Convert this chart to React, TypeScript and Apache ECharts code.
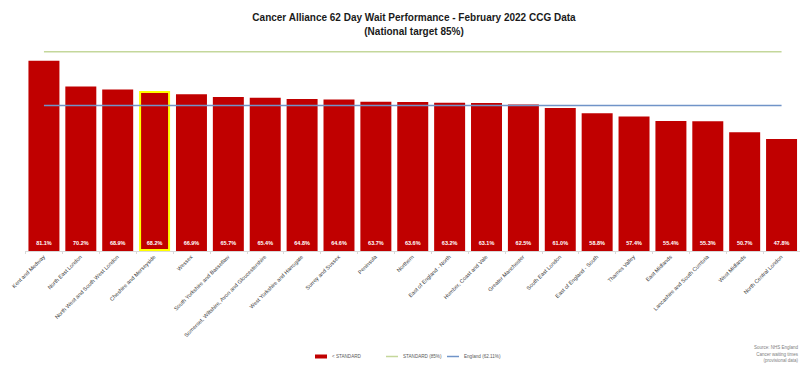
import React, { useEffect, useRef } from "react";
import * as echarts from "echarts";

const categories: string[] = [
  "Kent and Medway",
  "North East London",
  "North West and South West London",
  "Cheshire and Merseyside",
  "Wessex",
  "South Yorkshire and Bassetlaw",
  "Somerset, Wiltshire, Avon and Gloucestershire",
  "West Yorkshire and Harrogate",
  "Surrey and Sussex",
  "Peninsula",
  "Northern",
  "East of England - North",
  "Humber, Coast and Vale",
  "Greater Manchester",
  "South East London",
  "East of England - South",
  "Thames Valley",
  "East Midlands",
  "Lancashire and South Cumbria",
  "West Midlands",
  "North Central London",
];

const performance: number[] = [
  81.1, 70.2, 68.9, 68.2, 66.9, 65.7, 65.4, 64.8, 64.6, 63.7, 63.6, 63.2, 63.1,
  62.5, 61.0, 58.8, 57.4, 55.4, 55.3, 50.7, 47.8,
];

const standardTarget = 85;
const englandAverage = 62.11;
const highlighted = "Cheshire and Merseyside";

const sourceLines: string[] = [
  "Source: NHS England",
  "Cancer waiting times",
  "(provisional data)",
];

const FONT = "Liberation Sans";
const LINE_ICON = "path://M0 0H24V3H0Z";

export default function App() {
  const ref = useRef<HTMLDivElement>(null);

  useEffect(() => {
    if (!ref.current) return;
    const chart = echarts.init(ref.current, null, { renderer: "svg" });

    const barData = performance.map((v, i) =>
      categories[i] === highlighted
        ? { value: v, itemStyle: { borderColor: "#ffff00", borderWidth: 2 } }
        : v
    );

    const legendBase = {
      bottom: 8,
      padding: 0,
      itemWidth: 12,
      itemHeight: 4,
      textStyle: { fontSize: 4.6, color: "#595959", fontFamily: FONT },
    };

    chart.setOption({
      animation: false,
      textStyle: { fontFamily: FONT },
      title: {
        text: "Cancer Alliance 62 Day Wait Performance - February 2022 CCG Data\n(National target 85%)",
        left: 409,
        top: 5,
        textAlign: "center",
        textStyle: {
          fontFamily: FONT,
          fontSize: 10,
          fontWeight: "bold",
          color: "#1a1a1a",
          lineHeight: 14,
        },
      },
      grid: { left: 25.5, right: -2.5, top: 40, bottom: 116, containLabel: false },
      xAxis: {
        type: "category",
        data: categories,
        boundaryGap: true,
        axisLine: { lineStyle: { color: "#d9d9d9", width: 1 } },
        axisTick: { show: true, length: 3, lineStyle: { color: "#d9d9d9" } },
        axisLabel: {
          rotate: 45,
          interval: 0,
          fontSize: 5.5,
          color: "#404040",
          fontFamily: FONT,
          margin: 5,
        },
      },
      yAxis: {
        type: "value",
        min: 0,
        max: 90,
        show: false,
        splitLine: { show: false },
      },
      legend: [
        { ...legendBase, left: 315, data: [{ name: "< STANDARD", icon: "rect" }] },
        {
          ...legendBase,
          left: 386,
          data: [{ name: "STANDARD (85%)", icon: LINE_ICON, itemStyle: { color: "#c4d79b" } }],
        },
        {
          ...legendBase,
          left: 447,
          data: [{ name: "England (62.11%)", icon: LINE_ICON, itemStyle: { color: "#7094c8" } }],
        },
      ],
      series: [
        {
          name: "< STANDARD",
          type: "bar",
          data: barData,
          barCategoryGap: "16%",
          itemStyle: { color: "#c00000" },
          label: {
            show: true,
            position: "insideBottom",
            distance: 5,
            color: "#ffffff",
            fontSize: 5.5,
            fontWeight: "bold",
            fontFamily: FONT,
            formatter: (p: any) => `${Number(p.value).toFixed(1)}%`,
          },
        },
        {
          name: "STANDARD (85%)",
          type: "line",
          data: categories.map(() => standardTarget),
          symbol: "none",
          lineStyle: { color: "#c4d79b", width: 1.5 },
          itemStyle: { color: "#c4d79b" },
        },
        {
          name: "England (62.11%)",
          type: "line",
          data: categories.map(() => englandAverage),
          symbol: "none",
          lineStyle: { color: "#7094c8", width: 1.5 },
          itemStyle: { color: "#7094c8" },
        },
      ],
      graphic: sourceLines.map((t, i) => ({
        type: "text",
        right: 2,
        top: 345 + i * 6.5,
        style: {
          text: t,
          fontSize: 4.5,
          fill: "#808080",
          fontFamily: FONT,
          textAlign: "right",
        },
      })),
    });

    return () => chart.dispose();
  }, []);

  return <div ref={ref} style={{ width: 800, height: 367, position: "absolute", left: 0, top: 0 }} />;
}
